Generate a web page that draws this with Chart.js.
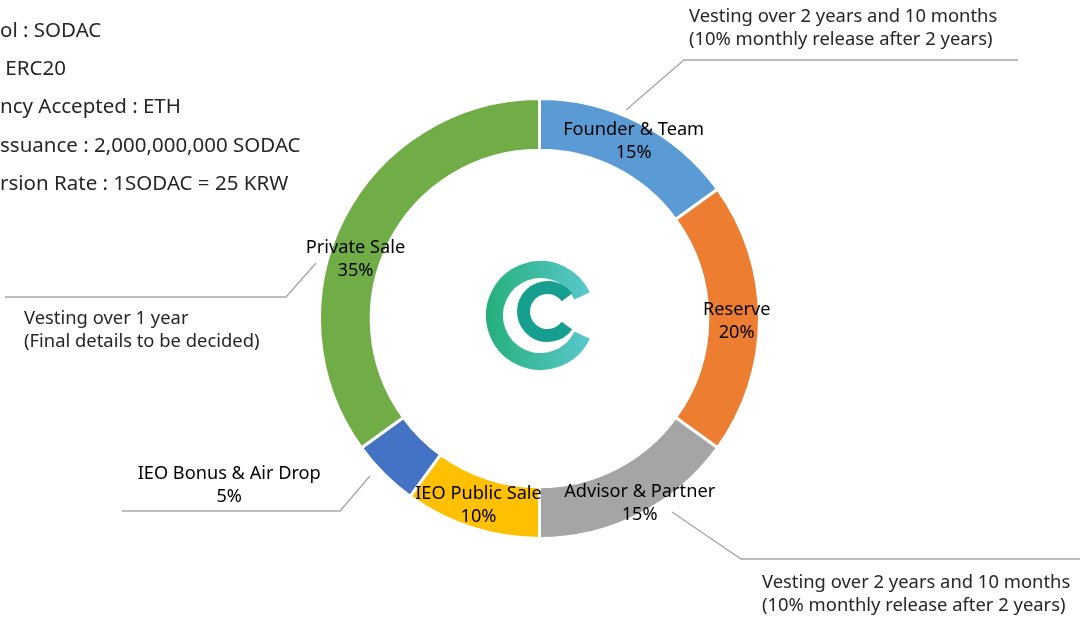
<!DOCTYPE html>
<html>
<head>
<meta charset="utf-8">
<script src="https://cdn.jsdelivr.net/npm/chart.js@4/dist/chart.umd.min.js"></script>
<style>
html,body{margin:0;padding:0;background:#fff;}
#wrap{width:1080px;height:618px;}
</style>
</head>
<body>
<div id="wrap"><canvas id="myChart" width="1080" height="618"></canvas></div>
<script>
// token allocation (percent), clockwise from 12 o'clock
var labels = ['Founder & Team', 'Reserve', 'Advisor & Partner', 'IEO Public Sale', 'IEO Bonus & Air Drop', 'Private Sale'];
var shares = [15, 20, 15, 10, 5, 35];
var colors = ['#5B9BD5', '#ED7D31', '#A5A5A5', '#FFC000', '#4472C4', '#70AD47'];

// token info lines (left part is cut off by the frame)
var infoHidden = ['Token Symb', 'Platform :', 'Curre', 'Total I', 'Conve'];
var infoText = ['Token Symbol : SODAC', 'Platform : ERC20', 'Currency Accepted : ETH', 'Total Issuance : 2,000,000,000 SODAC', 'Conversion Rate : 1SODAC = 25 KRW'];

var vestingLong = ['Vesting over 2 years and 10 months', '(10% monthly release after 2 years)'];
var vestingShort = ['Vesting over 1 year', '(Final details to be decided)'];

var FONT = '"Noto Sans", "DejaVu Sans", sans-serif';

// label nudges from arc centre, px
var labelShift = [[6, -5], [3, 2], [12, 11], [-1, 2], [-173, 29], [-11, 28]];

var ctx;
var myChart;

function poly(c, pts) {
    c.beginPath();
    c.moveTo(pts[0][0], pts[0][1]);
    for (var i = 1; i < pts.length; i++) c.lineTo(pts[i][0], pts[i][1]);
    c.stroke();
}

var extras = {
    id: 'extras',
    afterDraw: function (chart) {
        var c = chart.ctx;
        var meta = chart.getDatasetMeta(0);
        var cx = meta.data[0].x, cy = meta.data[0].y;
        c.save();

        // logo
        var g = c.createLinearGradient(cx - 55, 0, cx + 55, 0);
        g.addColorStop(0, '#24AF7A');
        g.addColorStop(1, '#5CC9D0');
        c.strokeStyle = g;
        c.lineWidth = 17;
        c.beginPath();
        c.arc(cx + 1, cy - 3, 46, 0.14 * Math.PI, 1.86 * Math.PI);
        c.stroke();
        c.strokeStyle = '#169F8F';
        c.lineWidth = 13;
        c.beginPath();
        c.arc(cx + 8, cy - 7, 24, 0.2 * Math.PI, 1.8 * Math.PI);
        c.stroke();

        // leader lines
        c.strokeStyle = '#A6A6A6';
        c.lineWidth = 1.3;
        poly(c, [[626, 110], [684, 60], [1018, 60]]);
        poly(c, [[316, 263], [286, 297], [5, 297]]);
        poly(c, [[370, 476], [340, 511], [122, 511]]);
        poly(c, [[672, 512], [741, 559], [1080, 559]]);

        // slice labels
        c.fillStyle = '#000';
        c.font = '18.2px ' + FONT;
        c.textAlign = 'center';
        c.textBaseline = 'middle';
        meta.data.forEach(function (arc, i) {
            var p = arc.tooltipPosition();
            var x = p.x + labelShift[i][0], y = p.y + labelShift[i][1];
            c.fillText(labels[i], x, y - 11);
            c.fillText(shares[i] + '%', x, y + 12);
        });

        // vesting notes
        c.fillStyle = '#262626';
        c.textAlign = 'left';
        c.font = '18.4px ' + FONT;
        c.fillText(vestingLong[0], 689, 17);
        c.fillText(vestingLong[1], 689, 40);
        c.fillText(vestingLong[0], 762, 583);
        c.fillText(vestingLong[1], 762, 606);
        c.fillText(vestingShort[0], 24, 319);
        c.fillText(vestingShort[1], 24, 342);

        // token info
        c.font = '20.5px ' + FONT;
        var ys = [31, 69, 107, 146, 184];
        for (var i = 0; i < infoText.length; i++) {
            var off = c.measureText(infoHidden[i]).width;
            c.fillText(infoText[i], -off, ys[i]);
        }
        c.restore();
    }
};

ctx = document.getElementById('myChart').getContext('2d');
myChart = new Chart(ctx, {
    type: 'doughnut',
    data: {
        labels: labels,
        datasets: [{
            data: shares,
            backgroundColor: colors,
            borderColor: '#fff',
            borderWidth: 3
        }]
    },
    options: {
        responsive: false,
        animation: false,
        cutout: '76.5%',
        layout: { padding: { top: 97, bottom: 78, left: 318, right: 319 } },
        plugins: { legend: { display: false }, tooltip: { enabled: false } }
    },
    plugins: [extras]
});
</script>
</body>
</html>
